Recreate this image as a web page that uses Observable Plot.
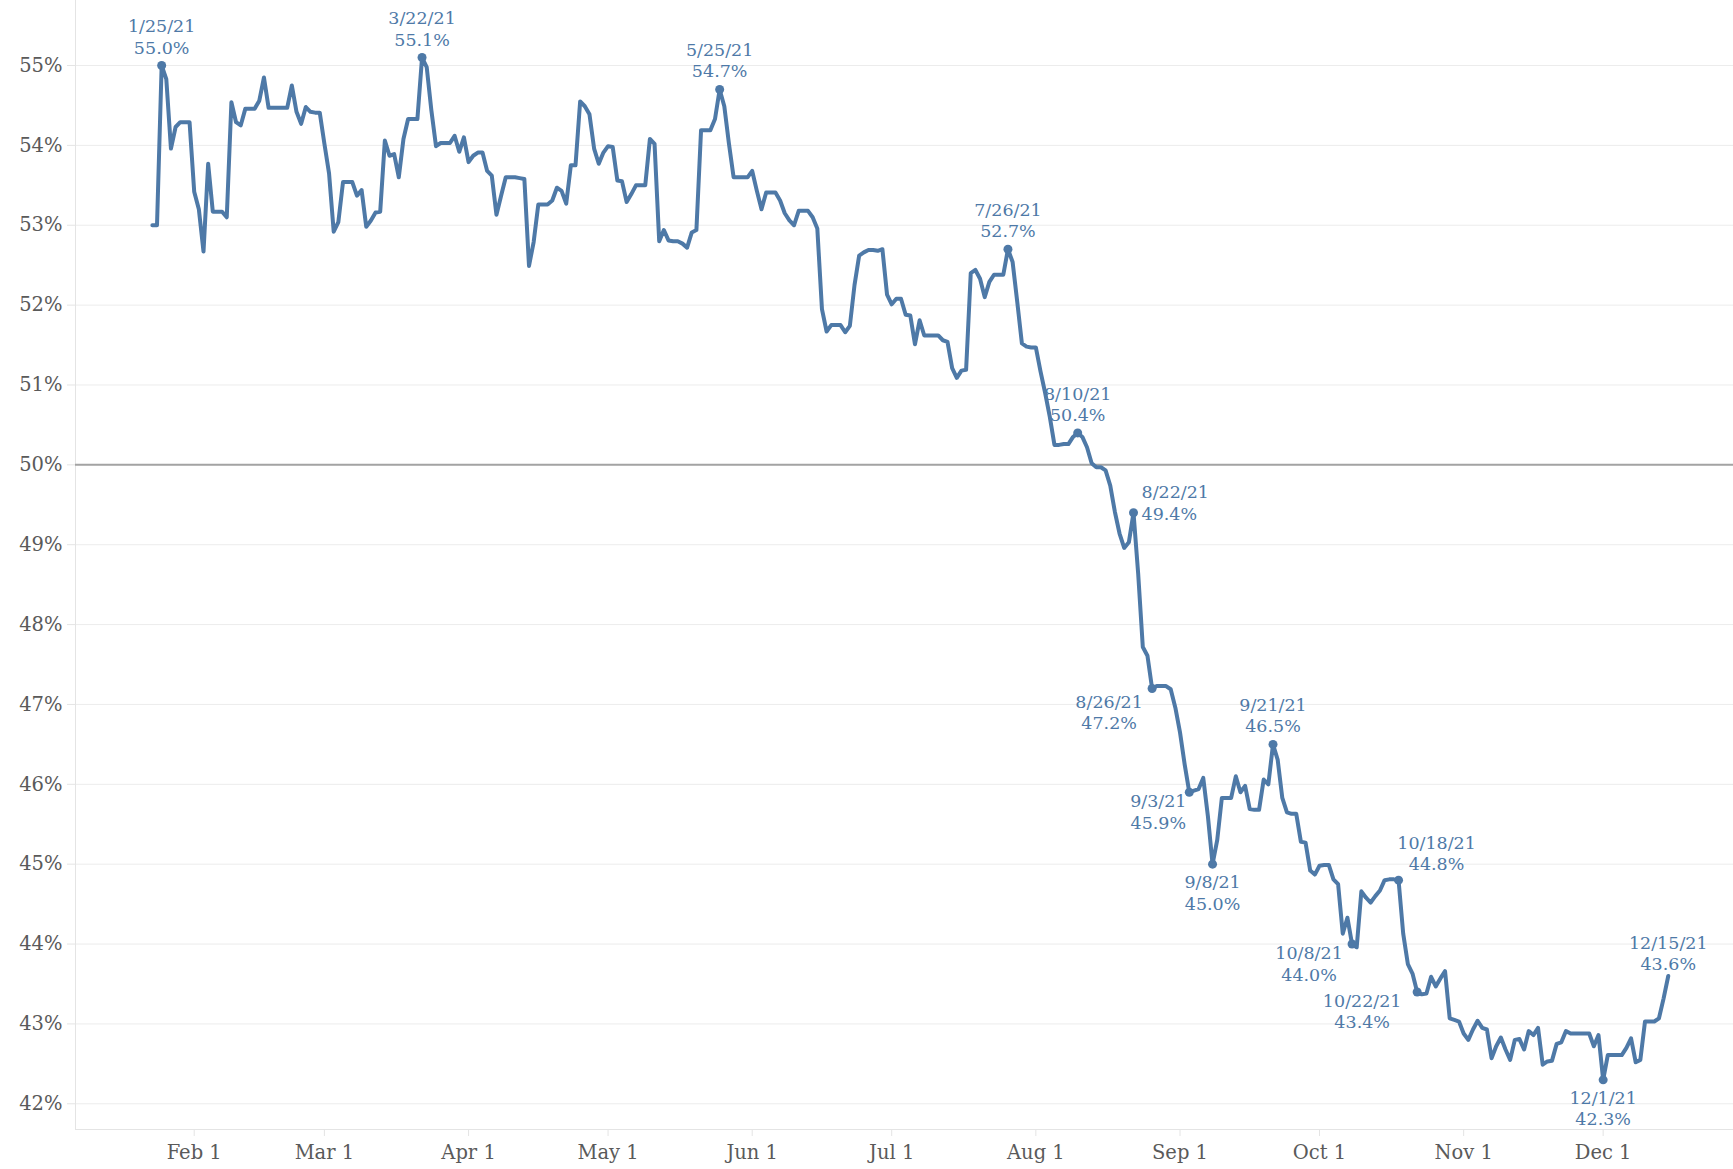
<!DOCTYPE html>
<html>
<head>
<meta charset="utf-8">
<script src="https://cdn.jsdelivr.net/npm/d3@7"></script>
<script src="https://cdn.jsdelivr.net/npm/@observablehq/plot@0.6"></script>
<style>
  html, body { margin: 0; padding: 0; background: #fff; overflow: hidden; }
</style>
</head>
<body>
<div id="chart"></div>
<script>
// ---- DATA (daily approval %) ----
const firstDayOfJan = 23; // series starts Jan 23, 2021
const jan = [53.0, 53.0, 55.0, 54.83, 53.96, 54.23, 54.29, 54.29, 54.29];
const feb = [53.42, 53.2, 52.67, 53.77, 53.17, 53.17, 53.17, 53.1, 54.54, 54.29, 54.25, 54.46, 54.46, 54.46, 54.56, 54.85, 54.47, 54.47, 54.47, 54.47, 54.47, 54.75, 54.42, 54.27, 54.48, 54.42, 54.41, 54.41];
const mar = [54.02, 53.65, 52.92, 53.04, 53.54, 53.54, 53.54, 53.37, 53.44, 52.98, 53.06, 53.16, 53.17, 54.06, 53.87, 53.89, 53.6, 54.08, 54.33, 54.33, 54.33, 55.1, 54.98, 54.44, 53.99, 54.03, 54.03, 54.03, 54.12, 53.92, 54.1];
const apr = [53.79, 53.87, 53.91, 53.91, 53.68, 53.62, 53.13, 53.37, 53.6, 53.6, 53.6, 53.59, 53.58, 52.49, 52.79, 53.26, 53.26, 53.26, 53.31, 53.47, 53.43, 53.27, 53.75, 53.75, 54.55, 54.49, 54.39, 53.96, 53.77, 53.91];
const may = [53.99, 53.98, 53.56, 53.55, 53.29, 53.39, 53.5, 53.5, 53.5, 54.08, 54.02, 52.8, 52.94, 52.81, 52.8, 52.8, 52.77, 52.72, 52.91, 52.94, 54.19, 54.19, 54.19, 54.33, 54.7, 54.49, 54.02, 53.6, 53.6, 53.6, 53.6];
const jun = [53.68, 53.43, 53.2, 53.41, 53.41, 53.41, 53.31, 53.15, 53.06, 53.0, 53.18, 53.18, 53.18, 53.1, 52.96, 51.95, 51.67, 51.75, 51.75, 51.75, 51.66, 51.74, 52.25, 52.62, 52.66, 52.69, 52.69, 52.68, 52.7, 52.13];
const jul = [52.01, 52.08, 52.08, 51.88, 51.87, 51.51, 51.81, 51.62, 51.62, 51.62, 51.62, 51.56, 51.54, 51.21, 51.09, 51.18, 51.19, 52.4, 52.44, 52.33, 52.1, 52.29, 52.38, 52.38, 52.38, 52.7, 52.54, 52.04, 51.52, 51.48, 51.47];
const aug = [51.47, 51.17, 50.9, 50.6, 50.25, 50.25, 50.26, 50.26, 50.35, 50.4, 50.35, 50.22, 50.02, 49.97, 49.97, 49.93, 49.74, 49.41, 49.14, 48.96, 49.03, 49.4, 48.64, 47.72, 47.61, 47.2, 47.23, 47.23, 47.23, 47.19, 46.96];
const sep = [46.65, 46.25, 45.9, 45.92, 45.94, 46.08, 45.6, 45.0, 45.3, 45.83, 45.83, 45.83, 46.1, 45.9, 45.98, 45.69, 45.68, 45.68, 46.06, 46.0, 46.5, 46.31, 45.83, 45.65, 45.63, 45.63, 45.28, 45.27, 44.92, 44.87];
const oct = [44.98, 44.99, 44.99, 44.81, 44.75, 44.13, 44.33, 44.0, 43.96, 44.66, 44.58, 44.52, 44.6, 44.67, 44.8, 44.81, 44.81, 44.8, 44.13, 43.75, 43.63, 43.4, 43.37, 43.38, 43.59, 43.47, 43.57, 43.66, 43.07, 43.05, 43.03];
const nov = [42.88, 42.8, 42.93, 43.04, 42.95, 42.93, 42.57, 42.72, 42.83, 42.68, 42.55, 42.8, 42.81, 42.68, 42.91, 42.86, 42.95, 42.49, 42.53, 42.54, 42.75, 42.77, 42.91, 42.88, 42.88, 42.88, 42.88, 42.88, 42.72, 42.86];
const dec = [42.3, 42.61, 42.61, 42.61, 42.61, 42.7, 42.82, 42.52, 42.55, 43.03, 43.03, 43.03, 43.07, 43.32, 43.6];

const annotationDates = ["2021-01-25", "2021-03-22", "2021-05-25", "2021-07-26", "2021-08-10", "2021-08-22", "2021-08-26", "2021-09-03", "2021-09-08", "2021-09-21", "2021-10-08", "2021-10-18", "2021-10-22", "2021-12-01", "2021-12-15"];
const annotationValues = [55.0, 55.1, 54.7, 52.7, 50.4, 49.4, 47.2, 45.9, 45.0, 46.5, 44.0, 44.8, 43.4, 42.3, 43.6];

const yTicks = [42, 43, 44, 45, 46, 47, 48, 49, 50, 51, 52, 53, 54, 55];
const xTickDates = ["2021-02-01", "2021-03-01", "2021-04-01", "2021-05-01", "2021-06-01", "2021-07-01", "2021-08-01", "2021-09-01", "2021-10-01", "2021-11-01", "2021-12-01"];
const referenceLine = [50];

// ---- BUILD TABLES ----
const months = [jan, feb, mar, apr, may, jun, jul, aug, sep, oct, nov, dec];
const series = [];
months.forEach((vals, m) => {
  const start = m === 0 ? firstDayOfJan : 1;
  vals.forEach((v, i) => series.push({date: new Date(Date.UTC(2021, m, start + i)), value: v}));
});
const parse = s => new Date(s + "T00:00:00Z");
const fmtDate = d3.utcFormat("%-m/%-d/%y");
const annotations = annotationDates.map((s, i) => ({
  key: s,
  date: parse(s),
  value: annotationValues[i],
  label: `${fmtDate(parse(s))}\n${annotationValues[i].toFixed(1)}%`
}));
const lastDate = +series[series.length - 1].date;

// ---- STYLE ----
const blue = "#4e79a7";
const placement = {
  "2021-08-22": "right",
  "2021-08-26": "left",
  "2021-09-03": "left",
  "2021-10-08": "left",
  "2021-10-22": "left",
  "2021-09-08": "below",
  "2021-12-01": "below",
  "2021-10-18": "aboveRight",
  "2021-12-15": "end"
};
const place = a => placement[a.key] || "above";
const labelFont = {fill: blue, fontSize: 17.5, lineHeight: 1.22, text: "label", x: "date", y: "value"};

const leftLabels = annotations.filter(a => place(a) === "left").map(a => {
  const n = a.label.split("\n")[0].length;
  return Plot.text([a], {...labelFont, textAnchor: "middle", lineAnchor: "top", dy: a.key === "2021-08-26" ? 4 : 0, dx: -(n * 12 - 41)});
});

const xDomain = [new Date(Date.UTC(2021, 0, 6, 11, 20)), new Date(Date.UTC(2021, 11, 29, 0, 45))];
const yDomain = [41.678, 55.814];

const chart = Plot.plot({
  width: 1733,
  height: 1169,
  marginLeft: 75,
  marginRight: 0,
  marginTop: 0,
  marginBottom: 40,
  style: {fontFamily: "'DejaVu Serif', serif", fontSize: "17px", background: "#fff"},
  x: {type: "utc", domain: xDomain},
  y: {domain: yDomain},
  marks: [
    Plot.gridY(yTicks, {stroke: "#ececec", strokeOpacity: 1, strokeWidth: 1}),
    Plot.ruleX([xDomain[0]], {stroke: "#e4e4e4", strokeWidth: 1}),
    Plot.ruleY([yDomain[0]], {stroke: "#e4e4e4", strokeWidth: 1}),
    Plot.ruleY(referenceLine, {stroke: "#a3a3a3", strokeWidth: 2}),
    Plot.axisY(yTicks, {
      tickSize: 8, tickPadding: 5, stroke: "#e4e4e4", fill: "#5a5a5a",
      fontSize: 19.5, tickFormat: d => d + "%", label: null
    }),
    Plot.axisX(xTickDates.map(parse), {
      tickSize: 7, tickPadding: 9, stroke: "#e4e4e4", fill: "#5a5a5a",
      fontSize: 19.5, tickFormat: d3.utcFormat("%b %-d"), label: null
    }),
    Plot.line(series, {x: "date", y: "value", stroke: blue, strokeWidth: 4, strokeLinejoin: "round", strokeLinecap: "round"}),
    Plot.dot(annotations.filter(a => +a.date !== lastDate), {x: "date", y: "value", r: 4.5, fill: blue, stroke: "none"}),
    Plot.text(annotations.filter(a => place(a) === "above"), {...labelFont, textAnchor: "middle", lineAnchor: "bottom", dy: -12}),
    Plot.text(annotations.filter(a => place(a) === "end"), {...labelFont, textAnchor: "middle", lineAnchor: "bottom", dy: -6}),
    Plot.text(annotations.filter(a => place(a) === "aboveRight"), {...labelFont, textAnchor: "middle", lineAnchor: "bottom", dy: -10, dx: 38}),
    Plot.text(annotations.filter(a => place(a) === "right"), {...labelFont, textAnchor: "start", lineAnchor: "bottom", dx: 8, dy: 7}),
    Plot.text(annotations.filter(a => place(a) === "below"), {...labelFont, textAnchor: "middle", lineAnchor: "top", dy: 9}),
    ...leftLabels
  ]
});
document.getElementById("chart").append(chart);
</script>
</body>
</html>
